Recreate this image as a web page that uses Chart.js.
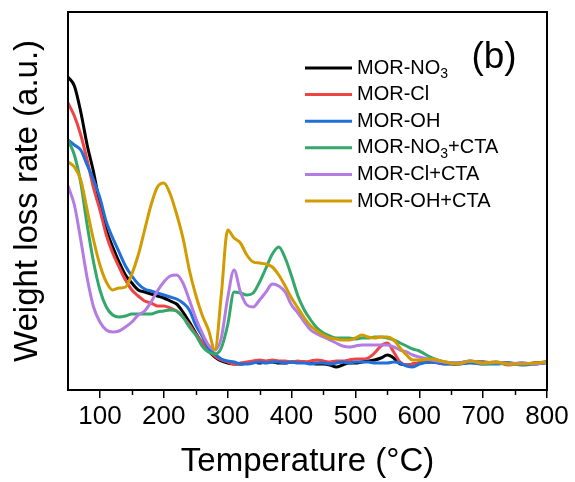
<!DOCTYPE html>
<html>
<head>
<meta charset="utf-8">
<script src="https://cdn.jsdelivr.net/npm/chart.js@4"></script>
<style>
  body { margin: 0; background: #fff; }
  #wrap { width: 575px; height: 482px; }
</style>
</head>
<body>
<div id="wrap"><canvas id="dtgChart" width="575" height="482"></canvas></div>
<script>
// temperature grid (°C)
const temps = [50, 60, 70, 80, 90, 100, 110, 120, 130, 140, 150, 160, 170, 180, 190, 200,
    210, 220, 230, 240, 250, 260, 270, 280, 290, 300, 310, 320, 330, 340, 350, 360, 370, 380,
    390, 400, 410, 420, 430, 440, 450, 460, 470, 480, 490, 500, 510, 520, 530, 540, 550, 560,
    570, 580, 590, 600, 620, 640, 660, 680, 700, 720, 740, 760, 780, 800];

const xTickLabels = [100, 200, 300, 400, 500, 600, 700, 800];
const xMinorTicks = [150, 250, 350, 450, 550, 650, 750];

const seriesNames = ['MOR-NO₃', 'MOR-Cl', 'MOR-OH', 'MOR-NO₃+CTA', 'MOR-Cl+CTA', 'MOR-OH+CTA'];
const seriesColors = ['#000000', '#f04444', '#1f6fdc', '#33a86a', '#b47ce2', '#d29c00'];

// DTG signal, arbitrary units
const morNO3 = [313, 304, 278, 245, 218, 185, 160, 143, 128, 115, 107, 100, 98, 96, 94, 92,
    89, 86, 78, 68, 57, 47, 39, 33, 29, 27, 26, 26, 27, 28, 27, 28, 28, 27,
    27, 28, 28, 28, 27, 26, 26, 25, 23, 25, 27, 27, 28, 29, 30, 32, 35, 32,
    26, 25, 26, 27, 28, 27, 26, 28, 28, 27, 27, 26, 27, 28];
const morCl = [287, 274, 255, 230, 202, 180, 155, 137, 123, 110, 100, 94, 89, 87, 84, 84,
    82, 79, 73, 65, 56, 48, 40, 34, 30, 28, 26, 27, 28, 29, 30, 29, 30, 29,
    29, 28, 29, 28, 29, 30, 29, 28, 29, 29, 30, 31, 31, 32, 37, 44, 47, 38,
    28, 25, 26, 27, 28, 26, 27, 28, 27, 28, 25, 27, 26, 28];
const morOH = [250, 245, 240, 225, 210, 192, 168, 152, 138, 124, 114, 106, 101, 99, 97, 95,
    93, 91, 87, 80, 65, 54, 42, 36, 31, 29, 28, 26, 26, 27, 28, 27, 28, 28,
    27, 28, 27, 27, 26, 27, 27, 26, 27, 28, 27, 28, 28, 28, 27, 27, 27, 28,
    27, 24, 23, 26, 28, 26, 26, 27, 26, 26, 27, 25, 26, 27];
const morNO3CTA = [250, 235, 207, 165, 128, 100, 83, 75, 73, 74, 76, 76, 76, 76, 78, 79,
    80, 79, 73, 63, 55, 44, 38, 36, 42, 65, 98, 97, 95, 97, 108, 122, 136, 143,
    132, 114, 94, 80, 70, 62, 57, 54, 52, 52, 52, 51, 52, 52, 53, 53, 52, 50,
    47, 44, 41, 39, 32, 28, 27, 29, 26, 27, 26, 27, 26, 28];
const morClCTA = [204, 185, 150, 112, 83, 68, 60, 58, 59, 63, 68, 75, 79, 88, 99, 108,
    114, 115, 107, 90, 72, 57, 45, 40, 52, 92, 120, 98, 85, 83, 90, 98, 106, 104,
    98, 85, 77, 68, 60, 56, 53, 50, 47, 44, 43, 44, 45, 45, 45, 45, 45, 43,
    40, 38, 35, 33, 30, 28, 27, 29, 27, 28, 26, 27, 26, 28];
const morOHCTA = [228, 223, 210, 180, 150, 125, 108, 100, 102, 103, 116, 135, 160, 185, 203, 207,
    196, 176, 152, 120, 95, 75, 60, 40, 95, 160, 152, 147, 135, 128, 127, 126, 123, 115,
    104, 92, 82, 72, 64, 59, 55, 52, 51, 50, 50, 52, 55, 53, 52, 53, 53, 50,
    42, 35, 30, 30, 31, 28, 26, 29, 27, 28, 26, 26, 27, 28];

const seriesValues = [morNO3, morCl, morOH, morNO3CTA, morClCTA, morOHCTA];

const FONT = '"Liberation Sans", Arial, sans-serif';

// draws text where "₃" becomes a lowered, smaller 3
function drawRich(ctx, text, x, y, size) {
    const parts = text.split('₃');
    let cx = x;
    parts.forEach((p, i) => {
        ctx.font = size + 'px ' + FONT;
        ctx.fillText(p, cx, y);
        cx += ctx.measureText(p).width;
        if (i < parts.length - 1) {
            ctx.font = Math.round(size * 0.68) + 'px ' + FONT;
            ctx.fillText('3', cx, y + size * 0.3);
            cx += ctx.measureText('3').width;
        }
    });
}

const decorations = {
    id: 'decorations',
    afterDraw(chart) {
        const ctx = chart.ctx;
        const area = chart.chartArea;
        const xs = chart.scales.x;
        ctx.save();

        // frame
        ctx.strokeStyle = '#000';
        ctx.lineWidth = 2;
        ctx.strokeRect(area.left, area.top, area.right - area.left, area.bottom - area.top);

        // minor ticks
        ctx.lineWidth = 1.5;
        xMinorTicks.forEach(v => {
            const px = Math.round(xs.getPixelForValue(v)) + 0.5;
            ctx.beginPath();
            ctx.moveTo(px, area.bottom);
            ctx.lineTo(px, area.bottom + 5);
            ctx.stroke();
        });

        // legend
        const lx = area.right - 242;
        const rowGap = 26.6;
        ctx.textBaseline = 'middle';
        ctx.textAlign = 'left';
        seriesNames.forEach((name, i) => {
            const ly = area.top + 56 + i * rowGap;
            ctx.strokeStyle = seriesColors[i];
            ctx.lineWidth = 3;
            ctx.beginPath();
            ctx.moveTo(lx, ly);
            ctx.lineTo(lx + 47, ly);
            ctx.stroke();
            ctx.fillStyle = '#000';
            drawRich(ctx, name, lx + 52, ly, 20);
        });

        // panel label
        ctx.font = '37px ' + FONT;
        ctx.textAlign = 'center';
        ctx.fillText('(b)', area.right - 53, area.top + 46);

        // axis titles
        ctx.font = '33px ' + FONT;
        ctx.fillText('Temperature (°C)', (area.left + area.right) / 2, 462);
        ctx.translate(28, (area.top + area.bottom) / 2);
        ctx.rotate(-Math.PI / 2);
        ctx.fillText('Weight loss rate (a.u.)', 0, 0);
        ctx.restore();
    }
};

new Chart(document.getElementById('dtgChart'), {
    type: 'line',
    data: {
        labels: temps,
        datasets: seriesValues.map((vals, i) => ({
            label: seriesNames[i],
            data: vals.map((v, j) => ({ x: temps[j], y: v })),
            borderColor: seriesColors[i],
            backgroundColor: seriesColors[i],
            borderWidth: 3,
            pointRadius: 0,
            cubicInterpolationMode: 'monotone',
            order: seriesValues.length - i
        }))
    },
    options: {
        responsive: false,
        animation: false,
        layout: { padding: { top: 12, right: 28, left: 0, bottom: 0 } },
        plugins: {
            legend: { display: false },
            tooltip: { enabled: false }
        },
        scales: {
            x: {
                type: 'linear',
                min: 50,
                max: 800,
                afterBuildTicks: axis => {
                    axis.ticks = xTickLabels.map(v => ({ value: v }));
                },
                afterFit: scale => { scale.height = 92; },
                border: { display: false },
                grid: {
                    display: true,
                    drawOnChartArea: false,
                    drawTicks: true,
                    tickLength: 8,
                    color: '#000',
                    lineWidth: 1.5
                },
                ticks: {
                    color: '#000',
                    font: { size: 26, family: FONT },
                    padding: 3,
                    maxRotation: 0,
                    autoSkip: false
                }
            },
            y: {
                min: 0,
                max: 378,
                afterFit: scale => { scale.width = 68; },
                border: { display: false },
                grid: { display: false },
                ticks: { display: false }
            }
        }
    },
    plugins: [decorations]
});
</script>
</body>
</html>
